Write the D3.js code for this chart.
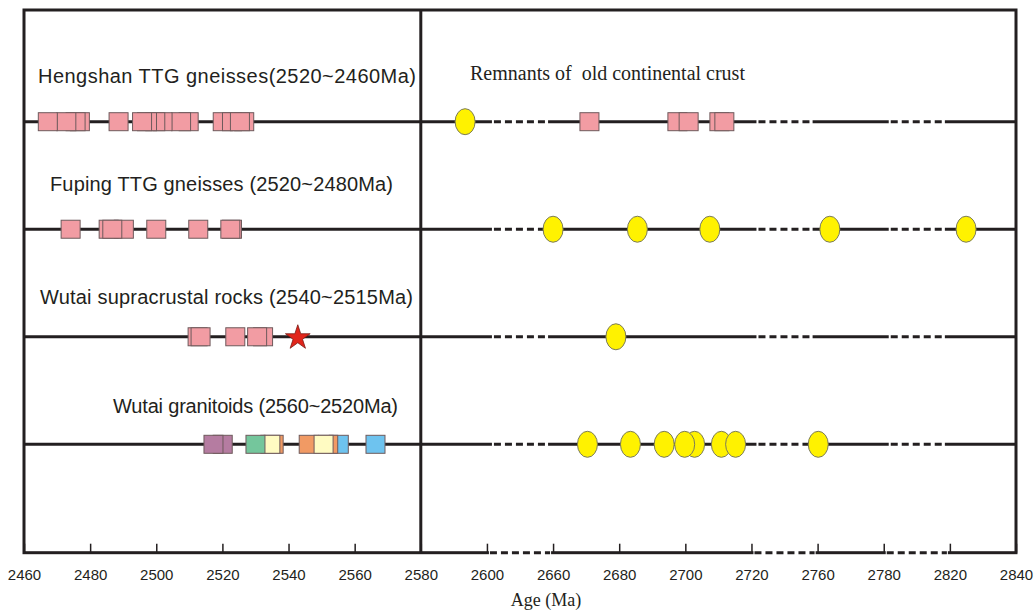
<!DOCTYPE html>
<html>
<head>
<meta charset="utf-8">
<script src="https://cdn.jsdelivr.net/npm/d3@7"></script>
<style>
  html, body { margin: 0; padding: 0; background: #fff; }
  svg { display: block; }
  .sans { font-family: "Liberation Sans", Arial, sans-serif; fill: #231f20; }
  .serif { font-family: "Liberation Serif", "Times New Roman", serif; fill: #231f20; }
</style>
</head>
<body>
<svg id="chart" width="1035" height="613"></svg>
<script>
// Row titles (top to bottom)
const rowTitles = [
  "Hengshan TTG gneisses(2520~2460Ma)",
  "Fuping TTG gneisses (2520~2480Ma)",
  "Wutai supracrustal rocks (2540~2515Ma)",
  "Wutai granitoids (2560~2520Ma)"
];
const remnantsTitle = "Remnants of  old continental crust";
const axisTitle = "Age (Ma)";

// Axis: broken age scale, ticks evenly spaced
const tickValues = [2460, 2480, 2500, 2520, 2540, 2560, 2580, 2600,
                    2660, 2680, 2700, 2720, 2760, 2780, 2820, 2840];
const solidSpans = [[2460, 2600], [2660, 2720], [2760, 2780], [2820, 2840]];

// Zircon ages (Ma), listed in drawing order
const hengshanSquares = [2476.9, 2475.6, 2472.8, 2467.2, 2488.6,
                         2509.8, 2507.5, 2501.9, 2499.7, 2497.2, 2495.7,
                         2526.6, 2520.1, 2522.9, 2525.3,
                         2671.0, 2697.6, 2701.0, 2710.3, 2711.8];
const hengshanCircles = [2593.4];

const fupingSquares = [2474.1, 2485.6, 2490.2, 2486.7, 2500.0, 2512.7, 2522.9, 2522.4];
const fupingCircles = [2660.0, 2685.5, 2707.4, 2763.7, 2824.9];

const supracrustalSquares = [2512.5, 2513.4, 2532.3, 2523.9, 2530.5];
const supracrustalStar = [2542.8];
const supracrustalCircles = [2679.0];

const granitoidAges  = [2520.1, 2517.3, 2535.5, 2534.5, 2530.0,
                        2555.2, 2552.0, 2546.1, 2550.6, 2566.3];
const granitoidTypes = ["purple", "purple", "orange", "yellow", "green",
                        "blue", "orange", "orange", "yellow", "blue"];
const granitoidCircles = [2670.4, 2683.4, 2693.6, 2702.8, 2699.8, 2710.9, 2715.2, 2760.2];

const rows = [
  { squares: hengshanSquares, types: null, circles: hengshanCircles, stars: [] },
  { squares: fupingSquares, types: null, circles: fupingCircles, stars: [] },
  { squares: supracrustalSquares, types: null, circles: supracrustalCircles, stars: supracrustalStar },
  { squares: granitoidAges, types: granitoidTypes, circles: granitoidCircles, stars: [] }
];

const svg = d3.select("#chart");
const frameL = 24, frameR = 1016, frameT = 10, frameB = 552.7;
const step = (frameR - frameL) / (tickValues.length - 1);

// piecewise linear scale for the broken axis
const breakDomain = [2460, 2600, 2660, 2720, 2760, 2780, 2820, 2840];
const x = d3.scaleLinear()
  .domain(breakDomain)
  .range(breakDomain.map(v => frameL + tickValues.indexOf(v) * step));

const y = d3.scalePoint().domain(d3.range(rowTitles.length))
  .range([121.7, 444.3]);

const typeColor = d3.scaleOrdinal()
  .domain(["purple", "green", "yellow", "orange", "blue"])
  .range(["#b57ca1", "#74c69c", "#fffbc2", "#f19a64", "#6ec3ef"]);

const ink = "#231f20";
const dash = "7,4";

// row baselines: solid spans joined by dashed breaks
rows.forEach((r, i) => {
  const yy = y(i);
  const g = svg.append("g");
  solidSpans.forEach((s, k) => {
    const x0 = x(s[0]) - (k > 0 ? 5 : 0);
    const x1 = x(s[1]) + (k < solidSpans.length - 1 ? 5 : 0);
    g.append("line").attr("x1", x0).attr("x2", x1).attr("y1", yy).attr("y2", yy)
      .attr("stroke", ink).attr("stroke-width", 3);
    if (k < solidSpans.length - 1) {
      const n = solidSpans[k + 1][0];
      g.append("line").attr("x1", x1 + 2).attr("x2", x(n) - 7).attr("y1", yy).attr("y2", yy)
        .attr("stroke", ink).attr("stroke-width", 3).attr("stroke-dasharray", dash);
    }
  });
});

// frame and middle divider
svg.append("rect").attr("x", frameL).attr("y", frameT)
  .attr("width", frameR - frameL).attr("height", frameB - frameT)
  .attr("fill", "none").attr("stroke", ink).attr("stroke-width", 3);
svg.append("line").attr("x1", x(2580)).attr("x2", x(2580))
  .attr("y1", frameT).attr("y2", frameB).attr("stroke", ink).attr("stroke-width", 3);

// bottom axis line: clear the frame's bottom edge over the breaks, then dash it
solidSpans.forEach((s, k) => {
  if (k < solidSpans.length - 1) {
    const n = solidSpans[k + 1][0];
    svg.append("line").attr("x1", x(s[1]) + 2).attr("x2", x(n) - 2)
      .attr("y1", frameB).attr("y2", frameB).attr("stroke", "#fff").attr("stroke-width", 5);
    svg.append("line").attr("x1", x(s[1]) + 3).attr("x2", x(n) - 3)
      .attr("y1", frameB).attr("y2", frameB).attr("stroke", ink).attr("stroke-width", 3)
      .attr("stroke-dasharray", dash);
  }
});

// ticks and labels
const axis = d3.axisBottom(x).tickValues(tickValues).tickSizeInner(-9).tickSizeOuter(0)
  .tickPadding(17).tickFormat(d3.format("d"));
const ax = svg.append("g").attr("transform", `translate(0,${frameB})`).call(axis);
ax.attr("font-family", null).attr("font-size", null);
ax.select(".domain").remove();
ax.selectAll(".tick line").attr("stroke", ink).attr("stroke-width", 1.5);
ax.selectAll(".tick text").attr("class", "sans").style("font-size", "15px").attr("fill", ink);

svg.append("text").attr("class", "serif").attr("x", 546).attr("y", 606)
  .attr("text-anchor", "middle").style("font-size", "18px").text(axisTitle);

// titles: left edge, baseline, and set width
const titlePos = [[38, 83, 378], [50, 191, 343], [40, 304, 373], [113, 413, 285]];
rowTitles.forEach((t, i) => {
  svg.append("text").attr("class", "sans").attr("x", titlePos[i][0]).attr("y", titlePos[i][1])
    .attr("textLength", titlePos[i][2]).attr("lengthAdjust", "spacing")
    .style("font-size", "20px").text(t);
});
svg.append("text").attr("class", "serif").attr("x", 470).attr("y", 80)
  .style("font-size", "20px").style("white-space", "pre").text(remnantsTitle);

// markers
const sqW = 19, sqH = 18;
rows.forEach((r, i) => {
  const yy = y(i);
  const g = svg.append("g");
  g.selectAll("rect").data(r.squares).join("rect")
    .attr("x", d => x(d) - sqW / 2).attr("y", yy - sqH / 2)
    .attr("width", sqW).attr("height", sqH)
    .attr("fill", (d, j) => r.types ? typeColor(r.types[j]) : "#f29ca3")
    .attr("stroke", "#6e5a5c").attr("stroke-width", 1);
  g.selectAll("ellipse").data(r.circles).join("ellipse")
    .attr("cx", d => x(d)).attr("cy", yy).attr("rx", 10).attr("ry", 13)
    .attr("fill", "#fff200").attr("stroke", "#7a7a5a").attr("stroke-width", 1);
  g.selectAll("path.star").data(r.stars).join("path").attr("class", "star")
    .attr("transform", d => `translate(${x(d)},${yy + 1})`)
    .attr("d", d3.symbol(d3.symbolStar).size(190))
    .attr("fill", "#e1251b").attr("stroke", "#7a1a14").attr("stroke-width", 0.8);
});
</script>
</body>
</html>
